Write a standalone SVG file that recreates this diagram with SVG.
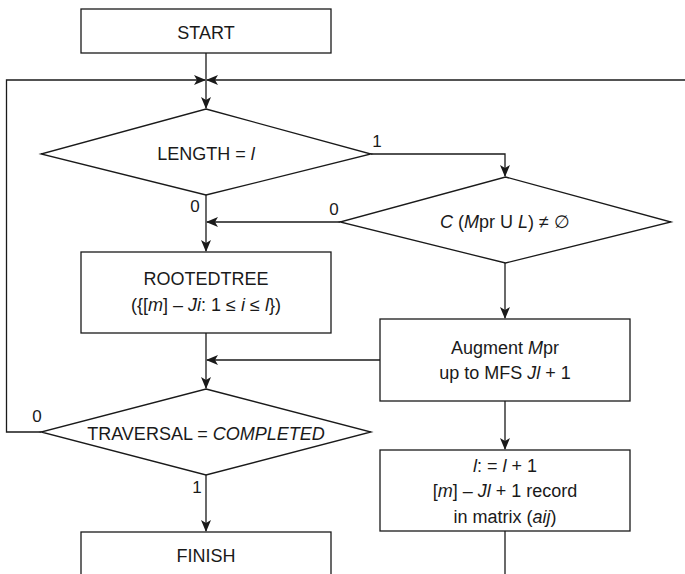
<svg xmlns="http://www.w3.org/2000/svg" width="685" height="574" viewBox="0 0 685 574">
<defs>
<style>
.box{fill:#fff;stroke:#1a1a1a;stroke-width:1.3}
.ln{fill:none;stroke:#1a1a1a;stroke-width:1.3}
text{font-family:"Liberation Sans","Noto Sans",sans-serif;font-size:18px;fill:#1a1a1a;text-anchor:middle}
.lbl{font-size:17px}
.i{font-style:italic}
</style>
<marker id="ah" viewBox="0 0 12 10" refX="11" refY="5" markerWidth="12" markerHeight="10" markerUnits="userSpaceOnUse" orient="auto">
<path d="M0,0 L12,5 L0,10 L3,5 z" fill="#1a1a1a"/>
</marker>
</defs>
<rect width="685" height="574" fill="#fff"/>
<g id="connectors">
<line class="ln" x1="206" y1="53" x2="206" y2="108" marker-end="url(#ah)"/>
<polyline class="ln" points="41,432 6.5,432 6.5,80 205,80" marker-end="url(#ah)"/>
<line class="ln" x1="685" y1="80" x2="207" y2="80" marker-end="url(#ah)"/>
<polyline class="ln" points="371,154 505,154 505,176" marker-end="url(#ah)"/>
<line class="ln" x1="206" y1="195" x2="206" y2="251" marker-end="url(#ah)"/>
<line class="ln" x1="340" y1="222" x2="207" y2="222" marker-end="url(#ah)"/>
<line class="ln" x1="505" y1="263" x2="505" y2="318" marker-end="url(#ah)"/>
<line class="ln" x1="206" y1="333" x2="206" y2="388" marker-end="url(#ah)"/>
<line class="ln" x1="380" y1="360" x2="207" y2="360" marker-end="url(#ah)"/>
<line class="ln" x1="505" y1="401" x2="505" y2="449" marker-end="url(#ah)"/>
<line class="ln" x1="206" y1="475" x2="206" y2="531" marker-end="url(#ah)"/>
<line class="ln" x1="505" y1="531" x2="505" y2="574"/>
<text class="lbl" x="377" y="147">1</text>
<text class="lbl" x="195" y="212">0</text>
<text class="lbl" x="334" y="215">0</text>
<text class="lbl" x="37" y="422">0</text>
<text class="lbl" x="197" y="493">1</text>
</g>
<g id="start">
<rect class="box" x="81" y="9" width="250" height="44"/>
<text x="206" y="39">START</text>
</g>
<g id="length">
<polygon class="box" points="206,109 371,154 206,195 41,154"/>
<text x="206" y="160">LENGTH = <tspan class="i">l</tspan></text>
</g>
<g id="cond">
<polygon class="box" points="505.5,177 671,222 505.5,263 340,222"/>
<text x="505" y="228"><tspan class="i">C</tspan> (<tspan class="i">M</tspan>pr U <tspan class="i">L</tspan>) ≠ ∅</text>
</g>
<g id="rootedtree">
<rect class="box" x="81" y="252" width="250" height="81"/>
<text x="206" y="285">ROOTEDTREE</text>
<text x="206" y="311">({[<tspan class="i">m</tspan>] – <tspan class="i">Ji</tspan>: 1 ≤ <tspan class="i">i</tspan> ≤ <tspan class="i">l</tspan>})</text>
</g>
<g id="augment">
<rect class="box" x="380" y="319" width="250" height="82"/>
<text x="505" y="354">Augment <tspan class="i">M</tspan>pr</text>
<text x="505" y="379">up to MFS <tspan class="i">Jl</tspan> + 1</text>
</g>
<g id="traversal">
<polygon class="box" points="206,389 371,432 206,475 41,432"/>
<text x="206" y="440">TRAVERSAL = <tspan class="i">COMPLETED</tspan></text>
</g>
<g id="increment">
<rect class="box" x="380" y="450" width="250" height="81"/>
<text x="505" y="472"><tspan class="i">l</tspan>: = <tspan class="i">l</tspan> + 1</text>
<text x="505" y="497">[<tspan class="i">m</tspan>] – <tspan class="i">Jl</tspan> + 1 record</text>
<text x="505" y="523">in matrix (<tspan class="i">aij</tspan>)</text>
</g>
<g id="finish">
<rect class="box" x="81" y="532" width="250" height="60"/>
<text x="206" y="562">FINISH</text>
</g>
</svg>
